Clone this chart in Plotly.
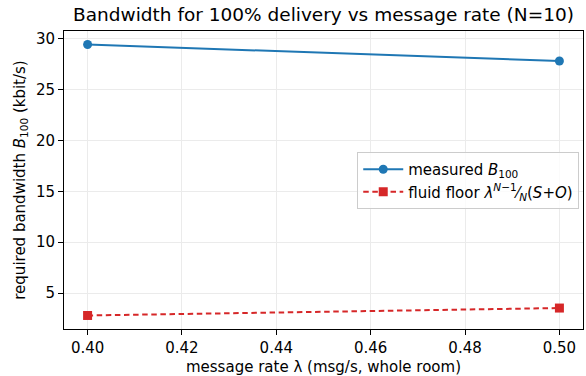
import plotly.graph_objects as go

rates = [0.40, 0.50]
measured_b100 = [29.44, 27.82]
fluid_floor = [2.80, 3.53]

x_ticks = [0.40, 0.42, 0.44, 0.46, 0.48, 0.50]
y_ticks = [5, 10, 15, 20, 25, 30]

BLUE = "#1f77b4"
RED = "#d62728"
FONT = "DejaVu Sans"

fig = go.Figure()
fig.add_trace(go.Scatter(
    x=rates, y=measured_b100, mode="lines+markers",
    name="measured <i>B</i><sub>100</sub>",
    line=dict(color=BLUE, width=2),
    marker=dict(symbol="circle", size=9, color=BLUE),
))
fig.add_trace(go.Scatter(
    x=rates, y=fluid_floor, mode="lines+markers",
    name="fluid floor <i>λ</i><sup><i>N</i>−1</sup>⁄<sub><i>N</i></sub>(<i>S</i>+<i>O</i>)",
    line=dict(color=RED, width=2, dash="5.5px,3.6px"),
    marker=dict(symbol="square", size=9, color=RED),
))

axis_common = dict(
    showline=True, linecolor="black", linewidth=1, mirror=True,
    ticks="outside", ticklen=5, tickwidth=1, tickcolor="black",
    showgrid=True, gridcolor="#ebebeb", gridwidth=1,
    zeroline=False,
    tickfont=dict(family=FONT, size=15, color="black"),
)

fig.update_layout(
    width=586, height=376,
    margin=dict(l=64, r=3, t=31, b=47),
    paper_bgcolor="white", plot_bgcolor="white",
    font=dict(family=FONT, size=15, color="black"),
    title=dict(
        text="Bandwidth for 100% delivery vs message rate (N=10)",
        x=(64 + 583) / 2 / 586, xanchor="center",
        y=1 - 15 / 376, yanchor="middle",
        font=dict(family=FONT, size=18.5, color="black"),
    ),
    xaxis=dict(
        range=[0.395, 0.505], tickvals=x_ticks,
        ticktext=[f"{v:.2f}" for v in x_ticks],
        title=dict(text="message rate λ (msg/s, whole room)",
                   font=dict(family=FONT, size=15), standoff=5),
        **axis_common,
    ),
    yaxis=dict(
        range=[1.47, 30.77], tickvals=y_ticks,
        title=dict(text="required bandwidth <i>B</i><sub>100</sub> (kbit/s)",
                   font=dict(family=FONT, size=15), standoff=6),
        **axis_common,
    ),
    legend=dict(
        x=0.565, y=0.594, xanchor="left", yanchor="top",
        bgcolor="rgba(255,255,255,0.8)", bordercolor="#cccccc", borderwidth=1,
        font=dict(family=FONT, size=15, color="black"),
        itemwidth=40, tracegroupgap=4,
    ),
    showlegend=True,
)

fig.write_html("out.html")
